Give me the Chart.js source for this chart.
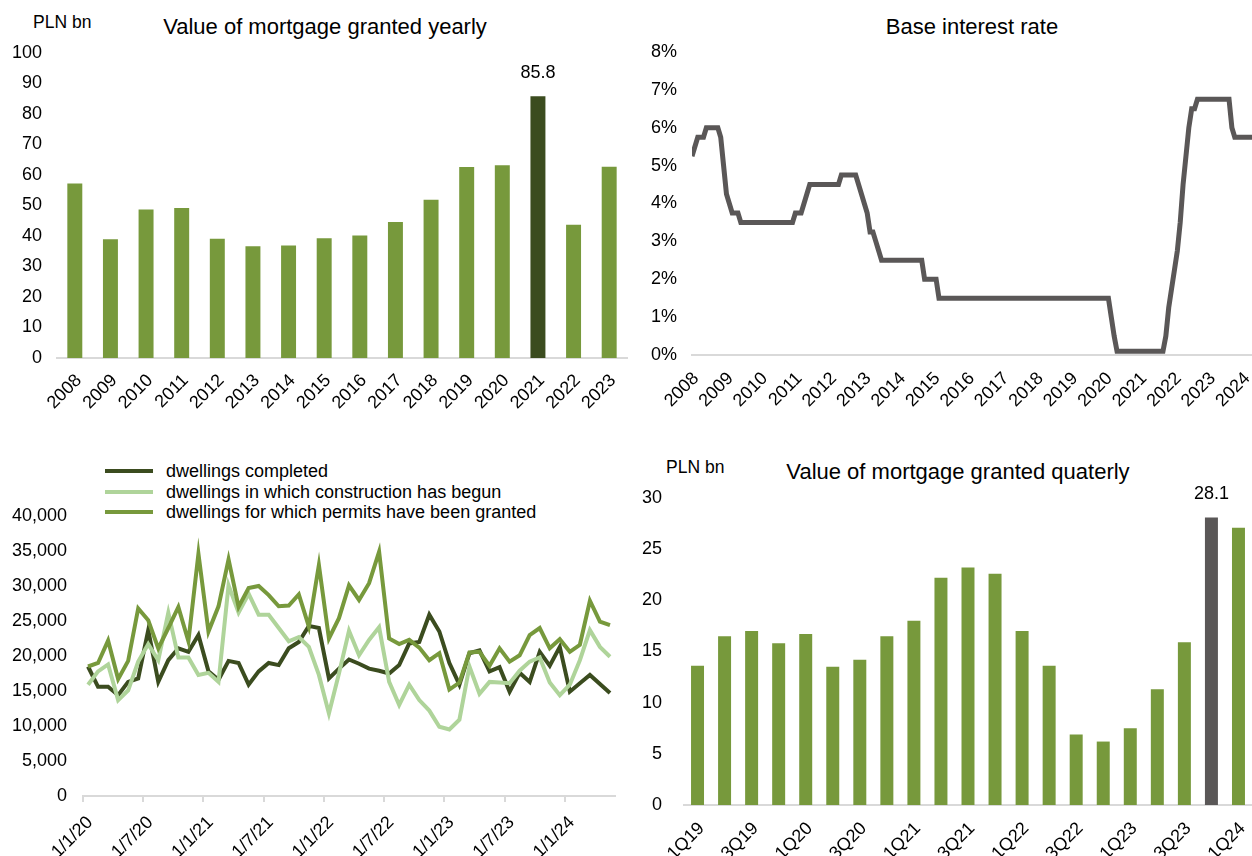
<!DOCTYPE html>
<html>
<head>
<meta charset="utf-8">
<script src="https://cdn.jsdelivr.net/npm/chart.js@4.4.1/dist/chart.umd.min.js"></script>
<style>
  body { margin:0; background:#fff; width:1252px; height:856px; overflow:hidden; position:relative;
         font-family:"Liberation Sans", Arial, sans-serif; color:#000; }
  canvas { position:absolute; }
  .txt { position:absolute; white-space:nowrap; }
  .title { font-size:22px; line-height:26px; text-align:center; }
  .unit { font-size:17.5px; line-height:20px; }
  .legend { position:absolute; left:105px; top:461px; font-size:18px; line-height:20.5px; }
  .legend div { white-space:nowrap; }
  .legend span { display:inline-block; width:48px; height:4px; vertical-align:middle; margin-right:13px; position:relative; top:-1px; }
</style>
</head>
<body>

<div class="txt unit" style="left:33px;top:12px">PLN bn</div>
<div class="txt title" style="left:125px;top:14px;width:400px">Value of mortgage granted yearly</div>
<div class="txt title" style="left:772px;top:14px;width:400px">Base interest rate</div>
<div class="txt unit" style="left:666px;top:457px">PLN bn</div>
<div class="txt title" style="left:758px;top:459px;width:400px">Value of mortgage granted quaterly</div>

<div class="legend">
  <div><span style="background:#3b4c1f"></span>dwellings completed</div>
  <div><span style="background:#afd49a"></span>dwellings in which construction has begun</div>
  <div><span style="background:#77993c"></span>dwellings for which permits have been granted</div>
</div>

<canvas id="c1" width="630" height="410" style="left:0;top:0"></canvas>
<canvas id="c2" width="622" height="410" style="left:630px;top:0"></canvas>
<canvas id="c3" width="630" height="426" style="left:0;top:430px"></canvas>
<canvas id="c4" width="622" height="426" style="left:630px;top:430px"></canvas>

<script>
// ---------- DATA ----------

// yearly mortgage value (PLN bn)
const years = ['2008','2009','2010','2011','2012','2013','2014','2015','2016','2017','2018','2019','2020','2021','2022','2023'];
const yearlyValue = [57.2, 38.9, 48.7, 49.2, 39.1, 36.6, 36.9, 39.3, 40.2, 44.6, 51.9, 62.6, 63.2, 85.8, 43.7, 62.7];
const yearlyHighlight = '2021';

// base interest rate: month of each change and new level (%)
const rateMonths = ['2008-01','2008-02','2008-03','2008-06','2008-11','2008-12','2009-01','2009-02','2009-03','2009-06',
  '2011-01','2011-04','2011-05','2011-06','2012-05','2012-11','2012-12','2013-01','2013-02','2013-03','2013-05','2013-06','2013-07',
  '2014-10','2015-03','2020-03','2020-04','2020-05','2021-10','2021-11','2021-12','2022-01','2022-02','2022-03','2022-04',
  '2022-05','2022-06','2022-07','2022-09','2023-09','2023-10','2024-04'];
const rateValues = [5.25,5.5,5.75,6.0,5.75,5.0,4.25,4.0,3.75,3.5,
  3.75,4.0,4.25,4.5,4.75,4.5,4.25,4.0,3.75,3.25,3.0,2.75,2.5,
  2.0,1.5,1.0,0.5,0.1,0.5,1.25,1.75,2.25,2.75,3.5,4.5,
  5.25,6.0,6.5,6.75,6.0,5.75,5.75];
const rateYearTicks = ['2008','2009','2010','2011','2012','2013','2014','2015','2016','2017','2018','2019','2020','2021','2022','2023','2024'];

// dwellings, monthly Jan 2020 - May 2024
const dwellMonthTicks = ['1/1/20','1/7/20','1/1/21','1/7/21','1/1/22','1/7/22','1/1/23','1/7/23','1/1/24'];
const completed = [18500,15600,15600,14400,16300,16800,23700,16300,19400,21100,20600,23000,
  17800,16600,19300,19000,15900,17800,19000,18700,21100,22000,24300,24000,
  16800,18200,19500,18900,18200,17900,17500,18700,21800,22000,25900,23500,
  19000,15900,20400,20800,17800,18400,14900,17600,16300,20600,18600,21300,
  14900,16100,17300,16000,14700];
const begun = [15900,17800,18800,13700,15100,19200,21700,19400,26200,19800,19800,17300,
  17600,16300,30100,26200,28900,25900,25900,24000,22100,22700,21300,17300,
  11800,17500,23600,20100,22300,24100,16300,13000,15900,13700,12200,9900,
  9500,10900,18500,14600,16300,16200,16100,17900,19200,19800,16200,14400,
  15900,19400,23700,21300,19900];
const permits = [18500,19000,22200,16700,19300,26800,25100,21100,24000,27000,22100,34600,
  23500,27100,33800,27000,29700,30000,28700,27100,27200,28800,24200,33000,
  22500,25400,30100,28000,30400,34900,22500,21700,22300,21200,19400,20400,
  15200,16200,20500,20600,18600,21100,19200,20100,23000,24000,21100,22400,
  20600,21600,27900,24900,24400];

// quarterly mortgage value (PLN bn)
const quarters = ['1Q19','2Q19','3Q19','4Q19','1Q20','2Q20','3Q20','4Q20','1Q21','2Q21','3Q21','4Q21',
  '1Q22','2Q22','3Q22','4Q22','1Q23','2Q23','3Q23','4Q23','1Q24'];
const quarterlyValue = [13.6,16.5,17.0,15.8,16.7,13.5,14.2,16.5,18.0,22.2,23.2,22.6,
  17.0,13.6,6.9,6.2,7.5,11.3,15.9,28.1,27.1];
const quarterlyHighlight = '4Q23';

// ---------- STYLE ----------
const green = '#77993c';
const darkGreen = '#3b4c1f';
const lightGreen = '#afd49a';
const grey = '#5a5757';
const axisGrey = '#d9d9d9';
const tickFont = {family: '"Liberation Sans", Arial, sans-serif', size: 18};

Chart.defaults.color = '#000';
Chart.defaults.animation = false;
Chart.defaults.responsive = false;

// small plugin to write the value above one highlighted bar
const valueLabel = {
  id: 'valueLabel',
  afterDatasetsDraw(chart, args, opts) {
    if (opts.index == null) return;
    const bar = chart.getDatasetMeta(0).data[opts.index];
    const val = chart.data.datasets[0].data[opts.index];
    const ctx = chart.ctx;
    ctx.save();
    ctx.font = '18px "Liberation Sans", Arial, sans-serif';
    ctx.fillStyle = '#000';
    ctx.textAlign = 'center';
    ctx.textBaseline = 'middle';
    ctx.fillText(val.toFixed(1), bar.x, bar.y - 23);
    ctx.restore();
  }
};

function fixSize(w, h) {
  return function(s) {
    if (w != null) s.width = w;
    if (h != null) s.height = h;
    s.paddingLeft = 0;
    s.paddingRight = 0;
  };
}

// ---------- CHART 1 : yearly bars ----------
let yearlyColors = [];
for (let i = 0; i < years.length; i++) {
  yearlyColors.push(years[i] === yearlyHighlight ? darkGreen : green);
}

new Chart(document.getElementById('c1'), {
  type: 'bar',
  data: {
    labels: years,
    datasets: [{ data: yearlyValue, backgroundColor: yearlyColors, barPercentage: 0.42, categoryPercentage: 1 }]
  },
  plugins: [valueLabel],
  options: {
    layout: { padding: { top: 53, right: 3, left: 0, bottom: 0 } },
    plugins: { legend: { display: false }, tooltip: { enabled: false }, valueLabel: { index: years.indexOf(yearlyHighlight) } },
    scales: {
      x: {
        grid: { display: false, drawTicks: false },
        border: { color: axisGrey, width: 2 },
        ticks: { font: tickFont, maxRotation: 45, minRotation: 45, padding: 12, labelOffset: 4, autoSkip: false },
        afterFit: fixSize(null, 52)
      },
      y: {
        min: 0, max: 100,
        grid: { display: false, drawTicks: false },
        border: { display: false },
        ticks: { stepSize: 10, font: tickFont, padding: 15 },
        afterFit: fixSize(57, null)
      }
    }
  }
});

// ---------- CHART 2 : base rate ----------
function monthToYear(m) {
  const parts = m.split('-');
  return parseInt(parts[0]) + (parseInt(parts[1]) - 1) / 12;
}
let ratePoints = [];
for (let i = 0; i < rateMonths.length; i++) {
  const x = monthToYear(rateMonths[i]);
  // hold previous level until the month before the change
  if (i > 0) {
    const prevX = ratePoints[ratePoints.length - 1].x;
    if (x - 1 / 12 > prevX + 0.001) ratePoints.push({ x: x - 1 / 12, y: rateValues[i - 1] });
  }
  ratePoints.push({ x: x, y: rateValues[i] });
}
const rateStart = parseInt(rateYearTicks[0]);
const rateEnd = monthToYear(rateMonths[rateMonths.length - 1]);

new Chart(document.getElementById('c2'), {
  type: 'line',
  data: {
    datasets: [{ data: ratePoints, borderColor: grey, borderWidth: 5, pointRadius: 0, tension: 0, borderJoinStyle: 'miter' }]
  },
  options: {
    layout: { padding: { top: 52, right: 0, left: 0, bottom: 0 } },
    plugins: { legend: { display: false }, tooltip: { enabled: false } },
    scales: {
      x: {
        type: 'linear', min: rateStart, max: rateEnd,
        grid: { display: false, drawTicks: false },
        border: { color: axisGrey, width: 2 },
        ticks: {
          stepSize: 1, includeBounds: false, autoSkip: false, font: tickFont,
          maxRotation: 45, minRotation: 45, padding: 13, labelOffset: 4,
          callback: v => rateYearTicks[v - rateStart]
        },
        afterFit: fixSize(null, 55)
      },
      y: {
        min: 0, max: 8,
        grid: { display: false, drawTicks: false },
        border: { display: false },
        ticks: { stepSize: 1, font: tickFont, padding: 15, callback: v => v + '%' },
        afterFit: fixSize(62, null)
      }
    }
  }
});

// ---------- CHART 3 : dwellings ----------
function toPoints(arr) {
  let pts = [];
  for (let i = 0; i < arr.length; i++) pts.push({ x: i + 0.5, y: arr[i] }); // mid month
  return pts;
}

new Chart(document.getElementById('c3'), {
  type: 'line',
  data: {
    datasets: [
      { label: 'dwellings completed', data: toPoints(completed), borderColor: darkGreen, order: 3 },
      { label: 'dwellings in which construction has begun', data: toPoints(begun), borderColor: lightGreen, order: 2 },
      { label: 'dwellings for which permits have been granted', data: toPoints(permits), borderColor: green, order: 1 }
    ]
  },
  options: {
    elements: { line: { borderWidth: 4, tension: 0 }, point: { radius: 0 } },
    layout: { padding: { top: 86, right: 15, left: 0, bottom: 0 } },
    plugins: { legend: { display: false }, tooltip: { enabled: false } },
    scales: {
      x: {
        type: 'linear', min: 0, max: completed.length,
        grid: { drawOnChartArea: false, drawTicks: true, tickLength: 6, color: axisGrey, lineWidth: 2 },
        border: { color: axisGrey, width: 2 },
        ticks: {
          stepSize: 6, includeBounds: false, autoSkip: false, font: tickFont,
          maxRotation: 45, minRotation: 45, padding: 10, labelOffset: 7,
          callback: v => dwellMonthTicks[v / 6]
        },
        afterFit: fixSize(null, 60)
      },
      y: {
        min: 0, max: 40000,
        grid: { display: false, drawTicks: false },
        border: { display: false },
        ticks: { stepSize: 5000, font: tickFont, padding: 16, callback: v => v.toLocaleString('en-US') },
        afterFit: fixSize(83, null)
      }
    }
  }
});

// ---------- CHART 4 : quarterly bars ----------
let quarterlyColors = [];
for (let i = 0; i < quarters.length; i++) {
  quarterlyColors.push(quarters[i] === quarterlyHighlight ? grey : green);
}

new Chart(document.getElementById('c4'), {
  type: 'bar',
  data: {
    labels: quarters,
    datasets: [{ data: quarterlyValue, backgroundColor: quarterlyColors, barPercentage: 0.48, categoryPercentage: 1 }]
  },
  plugins: [valueLabel],
  options: {
    layout: { padding: { top: 68, right: 0, left: 0, bottom: 0 } },
    plugins: { legend: { display: false }, tooltip: { enabled: false }, valueLabel: { index: quarters.indexOf(quarterlyHighlight) } },
    scales: {
      x: {
        grid: { display: false, drawTicks: false },
        border: { color: axisGrey, width: 2 },
        ticks: {
          font: tickFont, maxRotation: 45, minRotation: 45, padding: 13, labelOffset: 4, autoSkip: false,
          callback: (v, i) => (i % 2 === 0 ? quarters[i] : '')
        },
        afterFit: fixSize(null, 51)
      },
      y: {
        min: 0, max: 30,
        grid: { display: false, drawTicks: false },
        border: { display: false },
        ticks: { stepSize: 5, font: tickFont, padding: 22 },
        afterFit: fixSize(54, null)
      }
    }
  }
});
</script>
</body>
</html>
